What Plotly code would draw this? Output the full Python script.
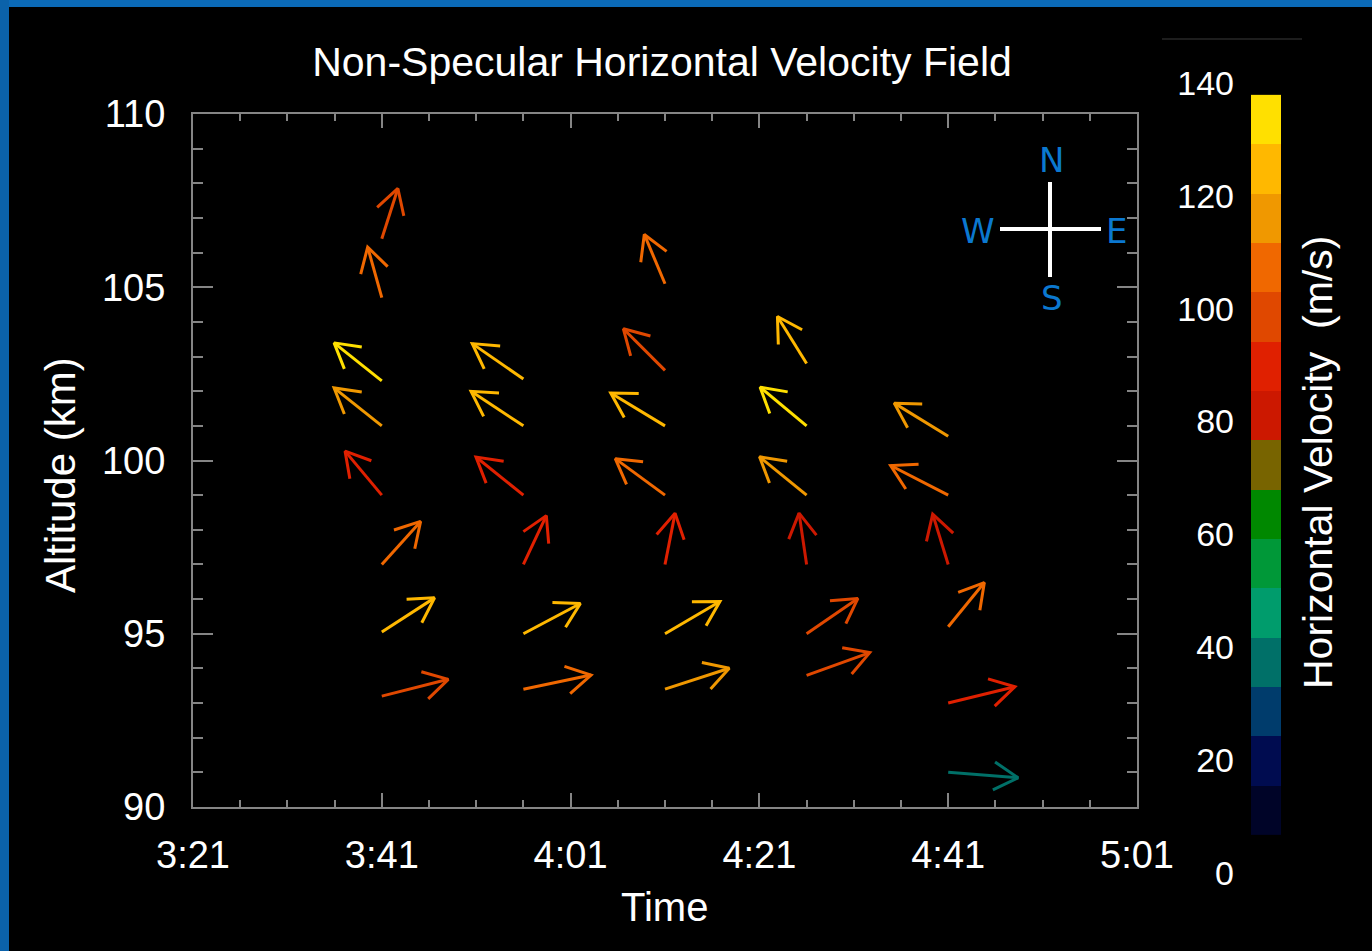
import math
import numpy as np
import plotly.graph_objects as go

# ---------------- data ----------------
time_tick_labels = ["3:21", "3:41", "4:01", "4:21", "4:41", "5:01"]
altitude_ticks = [90, 95, 100, 105, 110]

# wind vectors: launch time, altitude (km), eastward u and northward v (m/s)
arrow_time = (["3:41"] * 8 + ["3:56"] * 6 + ["4:11"] * 7 +
              ["4:26"] * 6 + ["4:41"] * 6)
arrow_alt = [106.4, 104.7, 102.3, 101.0, 99.0, 97.0, 95.05, 93.2,
             102.35, 101.0, 99.0, 97.0, 95.0, 93.4,
             105.1, 102.6, 101.0, 99.0, 97.0, 95.0, 93.4,
             102.8, 101.0, 99.0, 97.0, 95.0, 93.8,
             100.7, 99.0, 97.0, 95.2, 93.0, 91.0]
arrow_u = [22.4, -21.5, -91.6, -78.7, -44.9, 61.8, 93.8, 92.7,
           -90.9, -93.0, -59.3, 28.7, 101.3, 102.9,
           -31.5, -58.0, -100.3, -77.8, 12.3, 97.6, 102.4,
           -53.1, -89.3, -78.3, -8.8, 72.9, 88.0,
           -89.8, -86.0, -18.5, 55.0, 83.5, 32.8]
arrow_v = [95.4, 104.8, 99.2, 85.2, 73.3, 93.4, 82.7, 31.9,
           85.8, 83.5, 65.0, 83.2, 73.2, 29.3,
           102.3, 79.0, 82.7, 77.8, 85.1, 78.1, 45.4,
           116.5, 101.3, 86.9, 81.5, 68.4, 43.1,
           75.0, 60.3, 81.9, 91.8, 27.9, -3.5]

# velocity colour levels, 0-140 m/s, lowest level first
speed_min, speed_max = 0, 140
level_colors = ["#000428", "#000c50", "#003c6c", "#007068", "#009c6c",
                "#009838", "#008800", "#786400", "#cc1800", "#e02000",
                "#e04800", "#f06800", "#f09800", "#ffb800", "#ffe000"]
colorbar_ticks = [0, 20, 40, 60, 80, 100, 120, 140]


def to_minutes(label):
    h, m = label.split(":")
    return int(h) * 60 + int(m)


# ---------------- layout geometry ----------------
W, H = 1372, 951
ML, MR, MT, MB = 193, 72, 83, 78
PX0, PX1, PY0, PY1 = 193, 1137, 114, 807          # plot frame (pixels)
PW, PH = PX1 - PX0, PY1 - PY0


def fx(xp):
    return (xp - ML) / (W - ML - MR)


def fy(yp):
    return (H - MB - yp) / (H - MT - MB)


x_range = [to_minutes(time_tick_labels[0]), to_minutes(time_tick_labels[-1])]
y_range = [altitude_ticks[0], altitude_ticks[-1]]
x_span = x_range[1] - x_range[0]
y_span = y_range[1] - y_range[0]

ARROW_FRAC = 0.0745      # arrow length as a fraction of each axis span
HEAD_PX = 28             # barb length in pixels
HEAD_ANG = math.radians(30)
n_levels = len(level_colors)
level_step = (speed_max - speed_min) / n_levels

GREY = "#858585"
WHITE = "#ffffff"
BLUE = "#0b78d0"
FONT = "Liberation Sans, Arial, Helvetica, sans-serif"

fig = go.Figure()

# ---------------- vector arrows ----------------
for t_lbl, alt, u, v in zip(arrow_time, arrow_alt, arrow_u, arrow_v):
    t = to_minutes(t_lbl)
    spd = math.hypot(u, v)
    ux, vy = u / spd, v / spd
    hx = t + ARROW_FRAC * ux * x_span
    hy = alt + ARROW_FRAC * vy * y_span
    # barbs are laid out in screen space so they keep a fixed size
    sx, sy = ARROW_FRAC * ux * PW, ARROW_FRAC * vy * PH
    back = math.atan2(-sy, -sx)
    barbs = []
    for sgn in (1, -1):
        a = back + sgn * HEAD_ANG
        barbs.append((hx + HEAD_PX * math.cos(a) / PW * x_span,
                      hy + HEAD_PX * math.sin(a) / PH * y_span))
    lvl = min(max(int((spd - speed_min) // level_step), 0), n_levels - 1)
    fig.add_trace(go.Scatter(
        x=[t, hx, None, barbs[0][0], hx, barbs[1][0]],
        y=[alt, hy, None, barbs[0][1], hy, barbs[1][1]],
        mode="lines",
        line=dict(color=level_colors[lvl], width=3),
        hoverinfo="skip", showlegend=False,
        xaxis="x", yaxis="y",
    ))

# ---------------- colour bar ----------------
BAR_LO, BAR_HI = 6.7, 137.9       # drawn span of the bar on its label axis
bar_edges = np.linspace(BAR_LO, BAR_HI, n_levels + 1)
scale = []
for i, c in enumerate(level_colors):
    scale.append([i / n_levels, c])
    scale.append([(i + 1) / n_levels, c])
fig.add_trace(go.Heatmap(
    x=[0, 1], y=bar_edges,
    z=[[i + 0.5] for i in range(n_levels)],
    colorscale=scale, zmin=0, zmax=n_levels, showscale=False,
    hoverinfo="skip", xaxis="x2", yaxis="y2",
))

axis_common = dict(
    showgrid=False, zeroline=False, showline=True, linecolor=GREY,
    linewidth=2, mirror="allticks", ticks="inside", tickcolor=GREY,
    tickwidth=2, tickfont=dict(family=FONT, size=38, color=WHITE),
)

fig.update_layout(
    width=W, height=H,
    margin=dict(l=ML, r=MR, t=MT, b=MB, autoexpand=False),
    paper_bgcolor="#000000", plot_bgcolor="#000000",
    showlegend=False,
    title=dict(text="Non-Specular Horizontal Velocity Field",
               x=662 / W, y=1 - 62 / H, xref="container", yref="container",
               xanchor="center", yanchor="middle",
               font=dict(family=FONT, size=41, color=WHITE)),
    xaxis=dict(
        domain=[0, fx(PX1)], range=x_range, anchor="y",
        tickmode="array",
        tickvals=[to_minutes(s) for s in time_tick_labels],
        ticktext=time_tick_labels, ticklen=14, ticklabelstandoff=13,
        minor=dict(tickmode="linear", tick0=x_range[0], dtick=5,
                   ticks="inside", ticklen=7, tickwidth=2, tickcolor=GREY,
                   showgrid=False),
        **axis_common),
    yaxis=dict(
        domain=[fy(PY1), fy(PY0)], range=y_range, anchor="x",
        tickmode="array", tickvals=altitude_ticks, ticklen=20,
        ticklabelstandoff=18,
        minor=dict(tickmode="linear", tick0=y_range[0], dtick=1,
                   ticks="inside", ticklen=10, tickwidth=2, tickcolor=GREY,
                   showgrid=False),
        **axis_common),
    xaxis2=dict(domain=[fx(1251), fx(1281)], range=[0, 1], anchor="y2",
                visible=False, fixedrange=True),
    yaxis2=dict(domain=[0, 1], range=[speed_min, speed_max], anchor="x2",
                side="left", tickmode="array", tickvals=colorbar_ticks,
                ticks="", showgrid=False, zeroline=False, showline=False,
                ticklabelstandoff=16,
                tickfont=dict(family=FONT, size=34, color=WHITE)),
)

# axis titles
fig.add_annotation(text="Time", x=fx(664), y=fy(907), xref="paper",
                   yref="paper", showarrow=False, xanchor="center",
                   yanchor="middle",
                   font=dict(family=FONT, size=40, color=WHITE))
fig.add_annotation(text="Altitude (km)", x=fx(60), y=fy(475), xref="paper",
                   yref="paper", showarrow=False, textangle=-90,
                   xanchor="center", yanchor="middle",
                   font=dict(family=FONT, size=42, color=WHITE))
fig.add_annotation(text="Horizontal Velocity  (m/s)", x=fx(1318),
                   y=fy(463), xref="paper", yref="paper", showarrow=False,
                   textangle=-90, xanchor="center", yanchor="middle",
                   font=dict(family=FONT, size=41, color=WHITE))

# compass rose
CX, CY = 1050, 229
shapes = [
    dict(type="line", xref="paper", yref="paper", x0=fx(1000), x1=fx(1101),
         y0=fy(CY), y1=fy(CY), line=dict(color=WHITE, width=4)),
    dict(type="line", xref="paper", yref="paper", x0=fx(CX), x1=fx(CX),
         y0=fy(182), y1=fy(277), line=dict(color=WHITE, width=4)),
    # slide frame strips along the top and left edges
    dict(type="rect", xref="paper", yref="paper", x0=fx(0), x1=fx(W),
         y0=fy(0), y1=fy(7), line=dict(width=0), fillcolor="#0b6ab8"),
    dict(type="rect", xref="paper", yref="paper", x0=fx(0), x1=fx(9),
         y0=fy(0), y1=fy(H), line=dict(width=0), fillcolor="#0b62aa"),
    dict(type="line", xref="paper", yref="paper", x0=fx(1162), x1=fx(1302),
         y0=fy(39), y1=fy(39), line=dict(color="#3a3a3a", width=1)),
]
fig.update_layout(shapes=shapes)
for letter, lx, ly in [("N", 1051, 160), ("S", 1052, 298),
                       ("W", 978, 231), ("E", 1116, 231)]:
    fig.add_annotation(text=letter, x=fx(lx), y=fy(ly), xref="paper",
                       yref="paper", showarrow=False, xanchor="center",
                       yanchor="middle",
                       font=dict(family="DejaVu Sans", size=34, color=BLUE))

fig.write_html("out.html")
